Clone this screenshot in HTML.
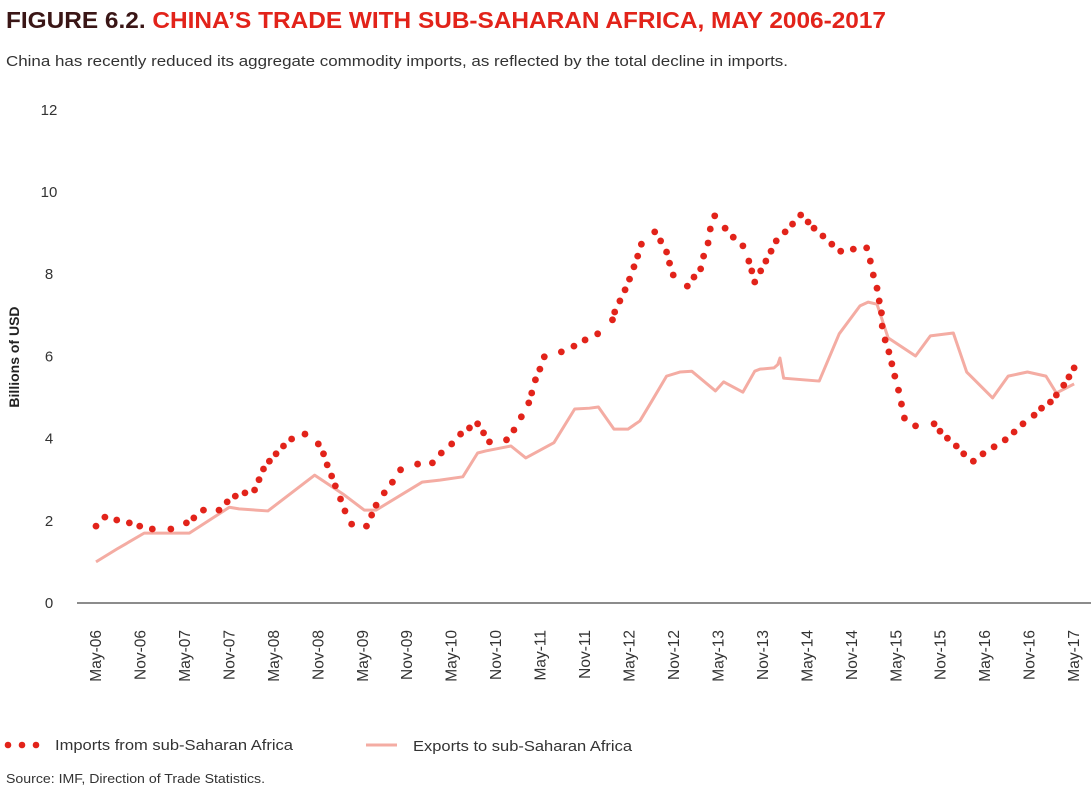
<!DOCTYPE html>
<html><head><meta charset="utf-8">
<style>
body{margin:0;background:#fff;width:1091px;height:793px;overflow:hidden;font-family:"Liberation Sans",sans-serif}
</style></head>
<body>
<svg id="chart" width="1091" height="793" xmlns="http://www.w3.org/2000/svg" font-family="Liberation Sans, sans-serif">
<text x="6" y="28" font-size="23" font-weight="bold" textLength="880" lengthAdjust="spacingAndGlyphs"><tspan fill="#3a1616">FIGURE 6.2. </tspan><tspan fill="#e2231a">CHINA’S TRADE WITH SUB-SAHARAN AFRICA, MAY 2006-2017</tspan></text>
<text x="6" y="66" font-size="15" fill="#333" textLength="782" lengthAdjust="spacingAndGlyphs">China has recently reduced its aggregate commodity imports, as reflected by the total decline in imports.</text>
<text transform="translate(19,357) rotate(-90)" text-anchor="middle" font-size="14" font-weight="bold" fill="#222">Billions of USD</text>
<line x1="77" y1="603" x2="1091" y2="603" stroke="#666" stroke-width="1.5"/>
<g id="yticks"></g><g id="xticks"></g>
<polyline id="exports" fill="none" stroke="#f4aca3" stroke-width="3" stroke-linejoin="round"/>
<g id="imports"></g>
<g>
<circle cx="8" cy="745" r="3.3" fill="#e2231a"/><circle cx="22" cy="745" r="3.3" fill="#e2231a"/><circle cx="36" cy="745" r="3.3" fill="#e2231a"/>
<text x="55" y="750" font-size="15" fill="#333" textLength="238" lengthAdjust="spacingAndGlyphs">Imports from sub-Saharan Africa</text>
<line x1="366" y1="745" x2="397" y2="745" stroke="#f4aca3" stroke-width="3"/>
<text x="413" y="751" font-size="15" fill="#333" textLength="219" lengthAdjust="spacingAndGlyphs">Exports to sub-Saharan Africa</text>
</g>
<text x="6" y="783" font-size="13" fill="#333" textLength="259" lengthAdjust="spacingAndGlyphs">Source: IMF, Direction of Trade Statistics.</text>
</svg>
<script>
const yTicks=[0,2,4,6,8,10,12];
const xLabels=["May-06","Nov-06","May-07","Nov-07","May-08","Nov-08","May-09","Nov-09","May-10","Nov-10","May-11","Nov-11","May-12","Nov-12","May-13","Nov-13","May-14","Nov-14","May-15","Nov-15","May-16","Nov-16","May-17"];
const importMonths=[0,1.2,2.8,4.5,5.9,7.6,10.1,12.2,13.2,14.5,16.6,17.7,18.8,20.1,21.4,22,22.6,23.4,24.3,25.3,26.4,28.2,30,30.7,31.2,31.8,32.3,33,33.6,34.5,36.5,37.2,37.8,38.9,40,41.1,43.4,45.4,46.6,48,49.2,50.4,51.5,52.3,53.1,55.4,56.4,57.4,58.4,58.8,59.3,59.9,60.5,62.8,64.5,66,67.7,69.7,70,70.7,71.4,72,72.6,73.1,73.6,75.4,76.2,77,77.4,77.9,79.8,80.7,81.6,82,82.6,82.9,83.5,84.9,86,87.3,88.1,88.5,88.9,89.7,90.4,91.1,91.8,93,94,95.1,96.1,96.9,98.1,99.3,100.5,102.2,104,104.5,104.9,105.4,105.7,106,106.1,106.5,107,107.4,107.8,108.3,108.7,109.1,110.6,113.1,113.9,114.9,116.1,117.1,118.4,119.7,121.2,122.7,123.9,125.1,126.6,127.6,128.8,129.6,130.6,131.3,132];
const importValues=[1.87,2.09,2.02,1.95,1.87,1.80,1.80,1.95,2.07,2.26,2.26,2.46,2.60,2.68,2.75,3.0,3.26,3.45,3.63,3.82,3.99,4.11,3.87,3.63,3.36,3.09,2.85,2.53,2.24,1.92,1.87,2.14,2.38,2.68,2.94,3.24,3.38,3.41,3.65,3.87,4.11,4.26,4.36,4.14,3.92,3.97,4.21,4.53,4.87,5.11,5.43,5.69,5.99,6.11,6.25,6.40,6.55,6.89,7.08,7.35,7.62,7.88,8.18,8.44,8.73,9.03,8.81,8.54,8.27,7.98,7.71,7.93,8.13,8.44,8.76,9.10,9.42,9.12,8.90,8.69,8.32,8.08,7.81,8.08,8.32,8.56,8.81,9.03,9.22,9.44,9.27,9.12,8.93,8.73,8.56,8.61,8.64,8.32,7.98,7.66,7.35,7.06,6.74,6.40,6.11,5.82,5.52,5.18,4.84,4.50,4.31,4.36,4.18,4.01,3.82,3.63,3.45,3.63,3.80,3.97,4.16,4.36,4.57,4.74,4.89,5.06,5.30,5.50,5.72];
const exportMonths=[0,2.8,6.5,12.6,18,19.3,23.2,29.5,33.5,36.2,37.8,44,46.4,49.5,51.5,52.6,56,58,61.8,64.6,66.6,67.8,69.9,71.8,73.4,75,77,78.8,80.4,83.6,84.7,87.3,88.9,89.6,91.5,92,92.3,92.8,97.6,100.3,103.1,104.2,105.4,106.9,110.6,112.6,115.7,117.5,121,123.1,125.7,128.2,129.6,132];
const exportValues=[1.0,1.31,1.70,1.70,2.33,2.29,2.24,3.11,2.63,2.26,2.26,2.94,2.99,3.07,3.65,3.70,3.82,3.53,3.9,4.72,4.74,4.77,4.23,4.23,4.43,4.91,5.52,5.62,5.64,5.16,5.38,5.13,5.64,5.69,5.72,5.80,5.96,5.47,5.40,6.55,7.23,7.32,7.27,6.45,6.01,6.50,6.57,5.62,4.99,5.52,5.62,5.52,5.11,5.33];
const X=m=>96+m*7.41, Y=v=>603-v*41.1;
const NS="http://www.w3.org/2000/svg";
const yg=document.getElementById('yticks');
yTicks.forEach(t=>{const e=document.createElementNS(NS,'text');


e.setAttribute('x',49);e.setAttribute('y',Y(t)+5);e.setAttribute('text-anchor','middle');e.setAttribute('font-size','15');e.setAttribute('fill','#333');e.textContent=t;yg.appendChild(e);});
const xg=document.getElementById('xticks');
xLabels.forEach((l,i)=>{const e=document.createElementNS(NS,'text');


const x=X(i*6)+5;e.setAttribute('transform',`translate(${x},630) rotate(-90)`);e.setAttribute('text-anchor','end');e.setAttribute('font-size','15.5');e.setAttribute('fill','#333');e.textContent=l;xg.appendChild(e);});
document.getElementById('exports').setAttribute('points',exportMonths.map((m,i)=>X(m)+','+Y(exportValues[i])).join(' '));
const ig=document.getElementById('imports');
importMonths.forEach((m,i)=>{const c=document.createElementNS(NS,'circle');


c.setAttribute('cx',X(m));c.setAttribute('cy',Y(importValues[i]));c.setAttribute('r',3.4);c.setAttribute('fill','#e2231a');ig.appendChild(c);});
</script>
</body></html>
